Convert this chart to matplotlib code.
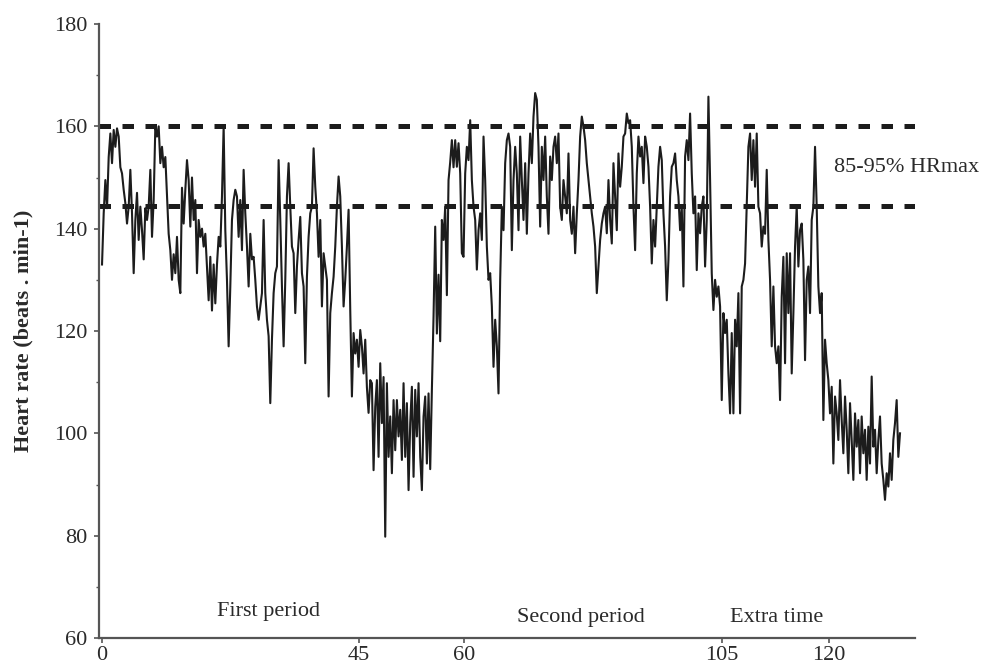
import matplotlib.pyplot as plt
import numpy as np

# heart rate (beats.min-1), one value every dt chart-minutes
dt = 0.2918

hr_first_period = [
    133, 143, 149.5, 144, 154, 158.6, 152.8, 159.3, 156, 159.6,
    158, 152, 150.8, 147.6, 145, 141, 144.3, 151.5, 143, 131.3,
    141.7, 147, 137.8, 144.3, 139.7, 134, 144, 141.7, 144.3, 151.5,
    138.4, 145.6, 160, 158, 160, 152.8, 156, 152, 154, 146.3,
    139, 135.8, 130, 135, 131.3, 138.4, 130, 127.4, 148, 141,
    147.6, 153.4, 149.5, 140.4, 150, 141.7, 145.6, 131.3, 141.7, 138.4,
    140, 136.5, 139, 132.6, 126, 134.5, 124, 133, 125.4, 133,
    138.4, 136.5, 146.3, 160, 139.7, 130, 117, 128.7, 141.7, 145.6,
    147.6, 146.3,
    138.4, 145.6, 135.8, 151.5, 143, 136.5, 128.7, 139, 134, 134.5,
    130, 124.8, 122.2, 124.8, 127.4, 141.7, 127.4, 122.2, 119, 105.9,
    118.3, 127.4, 131.3, 132.6, 153.4, 141.7, 128.7, 117, 130, 146.3,
    152.8, 144.3, 136.5, 135.2, 123.5, 132.6, 137.8, 142.3, 131.3, 128.7,
    113.7, 130.6, 138.4, 143, 144.3, 155.7, 148.2, 143, 134.5, 141.7,
    124.8, 135.2, 132.6, 130, 107.2, 123.5, 127.4, 130.6, 136.5, 144.3,
    150.2, 146.3, 136.5, 124.8, 130, 136.5, 143.7, 124.1, 107.2, 119.6,
    115.6, 118.3, 113, 120.2, 117, 111.7, 118.3, 109, 104, 110.4,
    109.8, 92.8,
]

hr_half_time = [
    105.2, 110.4, 95.4, 113.7, 102, 111, 79.8, 109.8, 95.4, 103.3,
    92.2, 106.5, 96.7, 106.5, 99.4, 104.6, 94.8, 109.8, 95.4, 105.9,
    88.9, 102, 109.1, 91.5, 108.5, 99.4, 109.8, 95.4, 88.9, 103.3,
    107.2, 94.1, 107.8, 93,
    108.5, 122.8, 140.4, 119.5, 131, 118, 141.7, 137.8, 144.3, 127, 149.5,
    153, 157.3, 152, 157.3, 152.1, 156.7, 150.8, 135.2, 134.5, 150.8,
    156, 153.4, 161.2,
]

hr_second_period = [
    149.5, 144.3, 141.7, 132, 139.7, 143, 137.8, 158, 149.5, 136.5,
    130, 131.3, 124.8, 113, 122.2, 117, 107.8, 130, 144.3, 139.7,
    152.8, 157.3, 158.6, 156, 135.8, 149.5, 156, 150.8, 139.7, 158,
    149.5, 141.7, 152.8, 139, 150.8, 158.6, 152.8, 161.9, 166.5, 165.2,
    156, 140.4, 156, 149.5, 158, 146.3, 139, 154.1, 149.5, 156,
    158, 152.8, 158.6, 144.3, 141.7, 149.5, 146.3, 143, 154.7, 141.7,
    139, 144.3, 135.2, 143, 149.5, 158, 161.9, 160, 157.3, 152.8,
    149.5, 146.3, 143, 140.4, 136.5, 127.4, 132.6, 137.8, 141, 143,
    144.3,
    139.1, 149.5, 141.7, 137.1, 152.8, 146.3, 139.7, 154.7, 148.2, 152.1,
    158, 158.6, 162.5, 160.6, 161.2, 156, 144.3, 135.8, 150.8, 158,
    154.1, 156, 148.9, 158, 156, 152.1, 144.3, 133.2, 141.7, 136.5,
    144.3, 152.1, 156, 153.4, 143, 136.5, 126, 133.9, 146.3, 152.1,
    152.8, 154.7, 149.5, 146.3, 139.7, 144.3, 128.7, 154.1, 157.3, 153.4,
    162.5, 150.8, 143, 146.3, 131.9, 143, 139.1, 144.3, 146.3, 132.6,
    141.7, 165.8, 149.5, 131.3, 124.1, 130, 126.7, 128.7, 124.8, 106.5,
    123.5, 119.6, 122.2, 111.7, 103.9, 119.6, 103.9, 122.2, 117, 127.4,
    103.9, 128.7,
]

hr_extra_time = [
    130, 133.2, 144.3, 156, 158.6, 149.5, 157.3, 148.2, 158.6, 144.3,
    143, 136.5, 140.4, 139, 151.5, 137.8, 130, 117, 128.7, 117,
    113.7, 117, 106.5, 126.7, 134.5, 113.7, 135.2, 123.5, 135.2, 111.7,
    123.5, 136.5, 144.3, 132.6, 139.7, 141, 133.9, 114.3, 130, 132.6,
    123.5, 141.7, 144.3, 156, 144.3, 128.7, 123.5, 127.4, 102.6, 118.3,
    113.7, 110.4, 103.9, 109.1, 94.1, 107.2, 103.9, 98.7, 110.4, 102.6,
    96.1, 107.2, 100.7, 92.2, 105.9, 98.7, 90.9, 103.9, 97.4, 102.6,
    92.2, 103.3, 96.1, 100.7, 90.9, 101.3, 94.1, 111.1, 97.4, 100.7,
    92.2, 98.7, 103.3, 94.1, 90.9, 87, 92.2, 89.6, 96.1, 90.9,
    98.7, 102, 106.5, 95.4, 100,
]

# zone limits and axis labelling
zone_low, zone_high = 144.5, 160
xtick_pos = [0, 45, 63.4, 108.6, 127.3]
xtick_labels = ["0", "45", "60", "105", "120"]
periods = [("First period", 29.2, 65.1), ("Second period", 83.9, 64.1), ("Extra time", 118.2, 64.1)]

hr = np.array(hr_first_period + hr_half_time + hr_second_period + hr_extra_time)
t = np.arange(len(hr)) * dt

plt.rcParams['font.family'] = ['Liberation Serif', 'DejaVu Serif']
fig = plt.figure(figsize=(9.84, 6.68), dpi=100)
ax = fig.add_axes([99 / 984, 30 / 668, 816 / 984, 614 / 668])

ax.plot(t, hr, color="#1c1c1c", lw=1.5)
for y in (zone_high, zone_low):
    ax.axhline(y, color="#1c1c1c", lw=3.6, linestyle=(0, (2.3, 2.3)), dash_capstyle="butt")

ax.text(128.2, 152, "85-95% HRmax", fontsize=16, color="#2a2a2a", ha="left", va="center")
for label, x, y in periods:
    ax.text(x, y, label, fontsize=16, color="#2a2a2a", ha="center", va="center")

# axes decoration
ax.set_xlim(-0.53, 142.4)
ax.set_ylim(60, 180)
ax.set_yticks(np.arange(60, 181, 20))
ax.set_yticks(np.arange(70, 180, 20), minor=True)
ax.set_xticks(xtick_pos)
ax.set_xticklabels(xtick_labels)
for side in ("top", "right"):
    ax.spines[side].set_visible(False)
for side in ("left", "bottom"):
    ax.spines[side].set_color("#555555")
    ax.spines[side].set_linewidth(1.6)
ax.tick_params(axis="both", which="major", direction="out", length=3.5, width=1.2,
               color="#555555", labelsize=16, labelcolor="#2a2a2a")
ax.tick_params(axis="y", which="major", pad=5)
ax.tick_params(axis="x", which="major", pad=2)
ax.tick_params(axis="y", which="minor", direction="out", length=2, width=1, color="#555555")

ax.set_ylabel("Heart rate (beats . min-1)", fontsize=16, fontweight="bold", color="#2a2a2a")
ax.yaxis.set_label_coords(-0.08, 0.5)

plt.savefig("out.png", dpi=100)
